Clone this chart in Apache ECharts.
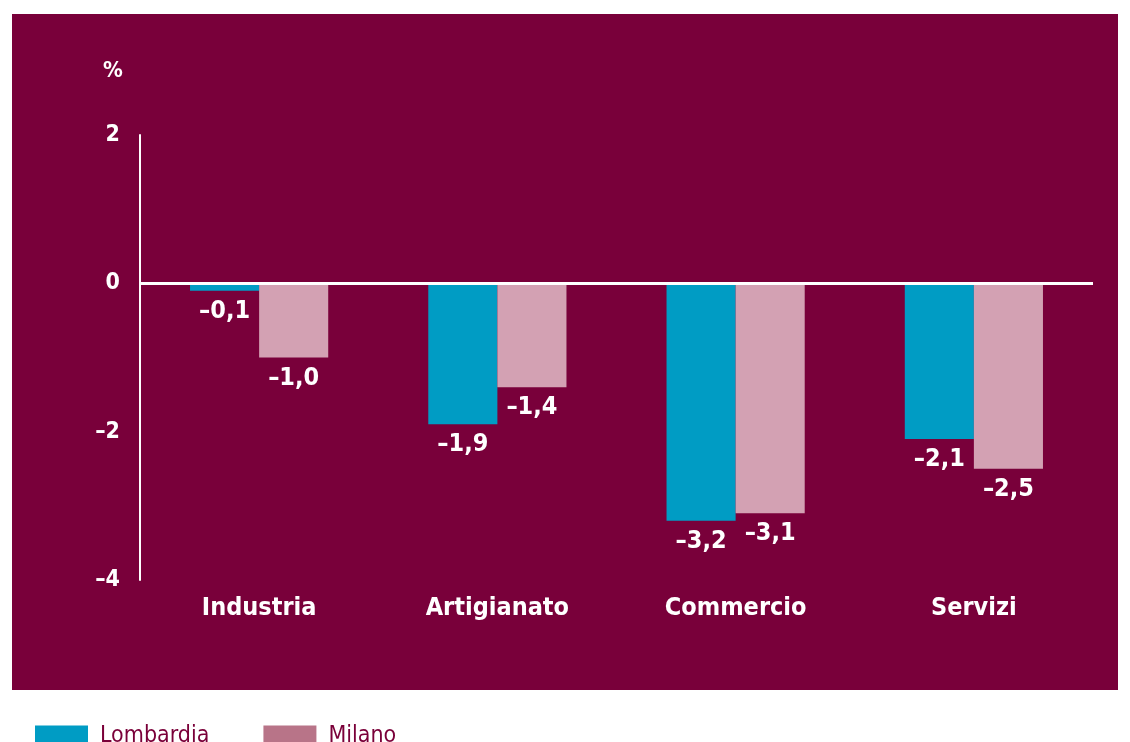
<!DOCTYPE html>
<html><head><meta charset="utf-8">
<script src="https://cdn.jsdelivr.net/npm/echarts@6/dist/echarts.min.js"></script>
<style>html,body{margin:0;padding:0;background:#fff}#c{width:1130px;height:742px}</style>
</head><body><div id="c"></div>
<script>
const categories = ['Industria', 'Artigianato', 'Commercio', 'Servizi'];
const lombardia = [-0.1, -1.9, -3.2, -2.1];
const milano = [-1.0, -1.4, -3.1, -2.5];
const seriesNames = ['Lombardia', 'Milano'];
const yTicks = { min: -4, max: 2, interval: 2 };

const BG = '#79003a';
const FONT = '"Liberation Sans Narrow", "DejaVu Sans Condensed", sans-serif';
const fmt = v => String(v.toFixed(1)).replace('.', ',').replace('-', '\u2013');

const chart = echarts.init(document.getElementById('c'));
const labelCfg = {
  show: true, position: 'bottom', distance: 8, color: '#fff',
  fontFamily: FONT, fontWeight: 'bold', fontSize: 25,
  formatter: p => fmt(p.value)
};
chart.setOption({
  backgroundColor: '#fff',
  animation: false,
  graphic: [{ type: 'rect', shape: { x: 12, y: 14, width: 1106, height: 676 }, style: { fill: BG }, z: -10 },
            { type: 'text', left: 103, top: 60, style: { text: '%', fill: '#fff', font: 'bold 22px ' + FONT } }],
  grid: { left: 140, right: 37, top: 135, bottom: 162 },
  legend: {
    left: 30, top: 720, itemWidth: 53, itemHeight: 22, itemGap: 54, icon: 'rect',
    textStyle: { color: '#7a0039', fontFamily: FONT, fontSize: 23, padding: [0, 0, 0, 7] },
    data: [{ name: seriesNames[0], itemStyle: { color: '#009cc4' } },
           { name: seriesNames[1], itemStyle: { color: '#b87488' } }]
  },
  xAxis: {
    type: 'category', data: categories,
    axisLine: { show: false }, axisTick: { show: false },
    axisLabel: { color: '#fff', fontFamily: FONT, fontWeight: 'bold', fontSize: 25, margin: 16 }
  },
  yAxis: {
    type: 'value', min: yTicks.min, max: yTicks.max, interval: yTicks.interval,
    axisLine: { show: true, lineStyle: { color: '#fff', width: 2 } },
    axisTick: { show: false }, splitLine: { show: false },
    axisLabel: { color: '#fff', fontFamily: FONT, fontWeight: 'bold', fontSize: 23, margin: 20,
                 formatter: v => String(v).replace('-', '\u2013') }
  },
  series: [
    { name: seriesNames[0], type: 'bar', data: lombardia, barGap: '0%', barCategoryGap: '42%',
      itemStyle: { color: '#009cc4' }, label: labelCfg,
      markLine: { silent: true, symbol: 'none', label: { show: false },
                  lineStyle: { color: '#fff', width: 3, type: 'solid' }, data: [{ yAxis: 0 }], z: 10 } },
    { name: seriesNames[1], type: 'bar', data: milano,
      itemStyle: { color: '#d3a1b3' }, label: labelCfg }
  ]
});
</script></body></html>
